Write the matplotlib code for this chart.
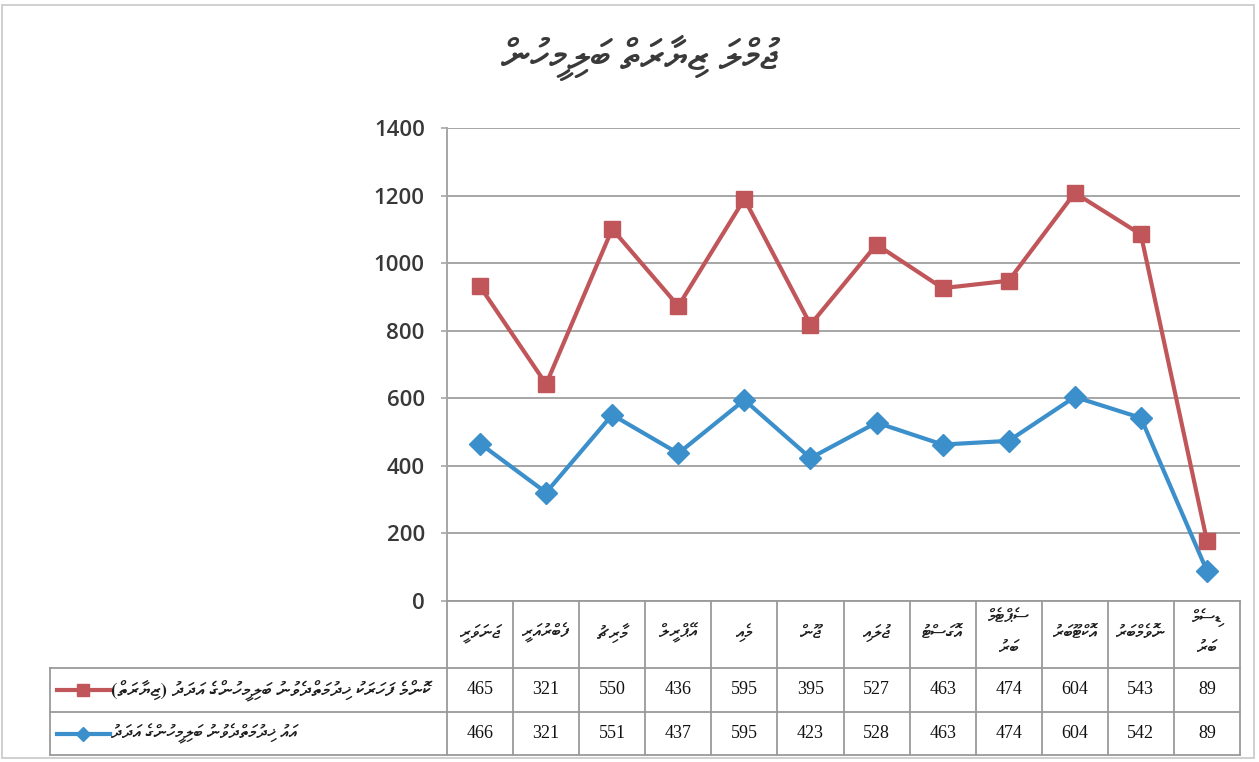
import unicodedata
import numpy as np
import matplotlib
matplotlib.use("Agg")
import matplotlib.pyplot as plt
from matplotlib import font_manager
from matplotlib.lines import Line2D
from matplotlib.patches import Rectangle

# ---------------- data ----------------
months = ["ޖަނަވަރީ", "ފެބްރުއަރީ", "މާރިޗު", "އޭޕްރީލް", "މެއި", "ޖޫން",
          "ޖުލައި", "އޮގަސްޓު", "ސެޕްޓެމްބަރު", "އޮކްޓޫބަރު", "ނޮވެމްބަރު", "ޑިސެމްބަރު"]
visits = [465, 321, 550, 436, 595, 395, 527, 463, 474, 604, 543, 89]
patients = [466, 321, 551, 437, 595, 423, 528, 463, 474, 604, 542, 89]
label_visits = "ކޮންމެ ފަހަރަކު ޚިދުމަތްދެވުނު ބަލިމީހުންގެ އަދަދު (ޒިޔާރަތް)"
label_patients = "އައު ޚިދުމަތްދެވުނު ބަލިމީހުންގެ އަދަދު"
title = "ޖުމްލަ ޒިޔާރަތް ބަލިމީހުން"
yticks = [0, 200, 400, 600, 800, 1000, 1200, 1400]

RED = "#C0565A"
BLUE = "#3B8FCB"
GRID = "#A6A6A6"

# ---------------- font for Thaana ----------------
thaana_family = None
thaana_file = None
try:
    from fontTools.ttLib import TTFont
    found = []
    for f in font_manager.fontManager.ttflist:
        try:
            tt = TTFont(f.fname, fontNumber=0, lazy=True)
            cm = tt.getBestCmap()
            if cm and 0x0780 in cm and 0x07A6 in cm:
                found.append((f.name, f.fname))
        except Exception:
            pass
    pref = [c for c in found if c[0] == "FreeSerif" and "Bold" not in c[1]
            and "Italic" not in c[1]]
    pick = pref[0] if pref else (found[0] if found else None)
    if pick:
        thaana_family, thaana_file = pick
except Exception:
    pass

mark_before_base = True
if thaana_file:
    try:
        from matplotlib.ft2font import FT2Font
        ft = FT2Font(thaana_file)
        ft.set_size(40, 72)
        g = ft.load_char(0x07A6)
        mark_before_base = g.horiBearingX >= 0
    except Exception:
        pass

def visual(s):
    """Return Thaana string in visual (left-to-right drawing) order."""
    if thaana_family is None:
        return s
    mirror = {"(": ")", ")": "("}
    if mark_before_base:
        return "".join(mirror.get(c, c) for c in reversed(s))
    clusters = []
    for ch in s:
        if clusters and unicodedata.category(ch) == "Mn":
            clusters[-1] += ch
        else:
            clusters.append(ch)
    clusters = [mirror.get(c, c) for c in clusters]
    return "".join(reversed(clusters))

tfam = [thaana_family, "DejaVu Sans"] if thaana_family else ["DejaVu Sans"]

# ---------------- figure ----------------
W, H = 1259, 762
fig = plt.figure(figsize=(W / 100, H / 100), dpi=100)
fig.patch.set_facecolor("white")

def fx(px):
    return px / W

def fy(py):
    return 1 - py / H

x0, x1, ytop, ybot = 447, 1240, 128, 601
ax = fig.add_axes([fx(x0), fy(ybot), fx(x1) - fx(x0), fy(ytop) - fy(ybot)])

n = len(months)
x = np.arange(n)
stacked = np.array(patients) + np.array(visits)

ax.plot(x, patients, color=BLUE, lw=3, marker="D", ms=11, mfc=BLUE, mec=BLUE, zorder=4)
ax.plot(x, stacked, color=RED, lw=3, marker="s", ms=11, mfc=RED, mec=RED, zorder=5)

ax.set_xlim(-0.5, n - 0.5)
ax.set_ylim(0, 1400)
ax.set_yticks(yticks)
ax.set_yticklabels([str(v) for v in yticks], fontsize=16, color="#383838",
                   family=["Open Sans", "DejaVu Sans"], fontweight="semibold")
ax.set_xticks([])
ax.yaxis.grid(True, color=GRID, lw=1.4)
ax.set_axisbelow(True)
for s in ["top", "right", "bottom"]:
    ax.spines[s].set_visible(False)
ax.spines["left"].set_color(GRID)
ax.spines["left"].set_linewidth(1.4)
ax.tick_params(axis="y", length=4, color=GRID, width=1.2, pad=12)

# ---------------- data table ----------------
colw = (x1 - x0) / n
r0, r1, r2, r3 = 601, 668, 712, 755
leftx = 50
tcol = "#9A9A9A"

def hline(y, xa, xb):
    fig.add_artist(Line2D([fx(xa), fx(xb)], [fy(y), fy(y)], color=tcol, lw=1.3))

def vline(xp, ya, yb):
    fig.add_artist(Line2D([fx(xp), fx(xp)], [fy(ya), fy(yb)], color=tcol, lw=1.3))

hline(r0, x0, x1)
hline(r1, leftx, x1)
hline(r2, leftx, x1)
hline(r3, leftx, x1)
for k in range(n + 1):
    vline(x0 + k * colw, r0, r3)
vline(leftx, r1, r3)

wrap_cols = {8: ("ސެޕްޓެމް", "ބަރު"), 11: ("ޑިސެމް", "ބަރު")}
mkw = dict(ha="center", va="center", fontsize=13, color="#1E1E1E",
           family=tfam, fontweight="bold")
for k in range(n):
    cx = x0 + (k + 0.5) * colw
    if k in wrap_cols:
        l1, l2 = wrap_cols[k]
        fig.text(fx(cx), fy(618), visual(l1), **mkw)
        fig.text(fx(cx), fy(648), visual(l2), **mkw)
    else:
        fig.text(fx(cx), fy(633), visual(months[k]), **mkw)
    fig.text(fx(cx), fy((r1 + r2) / 2), str(visits[k]), ha="center", va="center",
             fontsize=13, color="#111111", family=["Liberation Serif", "DejaVu Serif"])
    fig.text(fx(cx), fy((r2 + r3) / 2), str(patients[k]), ha="center", va="center",
             fontsize=13, color="#111111", family=["Liberation Serif", "DejaVu Serif"])

# legend keys in table header cells
for (yrow, col, mk, ms, lab, fs) in [((r1 + r2) / 2, RED, "s", 9, label_visits, 14),
                                     ((r2 + r3) / 2, BLUE, "D", 7, label_patients, 13)]:
    fig.add_artist(Line2D([fx(57), fx(110)], [fy(yrow), fy(yrow)], color=col, lw=3))
    fig.add_artist(Line2D([fx(83)], [fy(yrow)], color=col, marker=mk, ms=ms,
                          mfc=col, mec=col, lw=0))
    fig.text(fx(111), fy(yrow), visual(lab), ha="left", va="center",
             fontsize=fs, color="#1E1E1E", family=tfam, fontweight="bold")

# title
fig.text(fx(640), fy(58), visual(title), ha="center", va="center",
         fontsize=29, color="#3A3A3A", family=tfam, fontweight="bold")

# outer chart border
fig.add_artist(Rectangle((fx(2), fy(758)), fx(1254) - fx(2), fy(5) - fy(758),
                         fill=False, edgecolor="#C8C8C8", lw=1.2))

fig.savefig("out.png", dpi=100, facecolor="white")
